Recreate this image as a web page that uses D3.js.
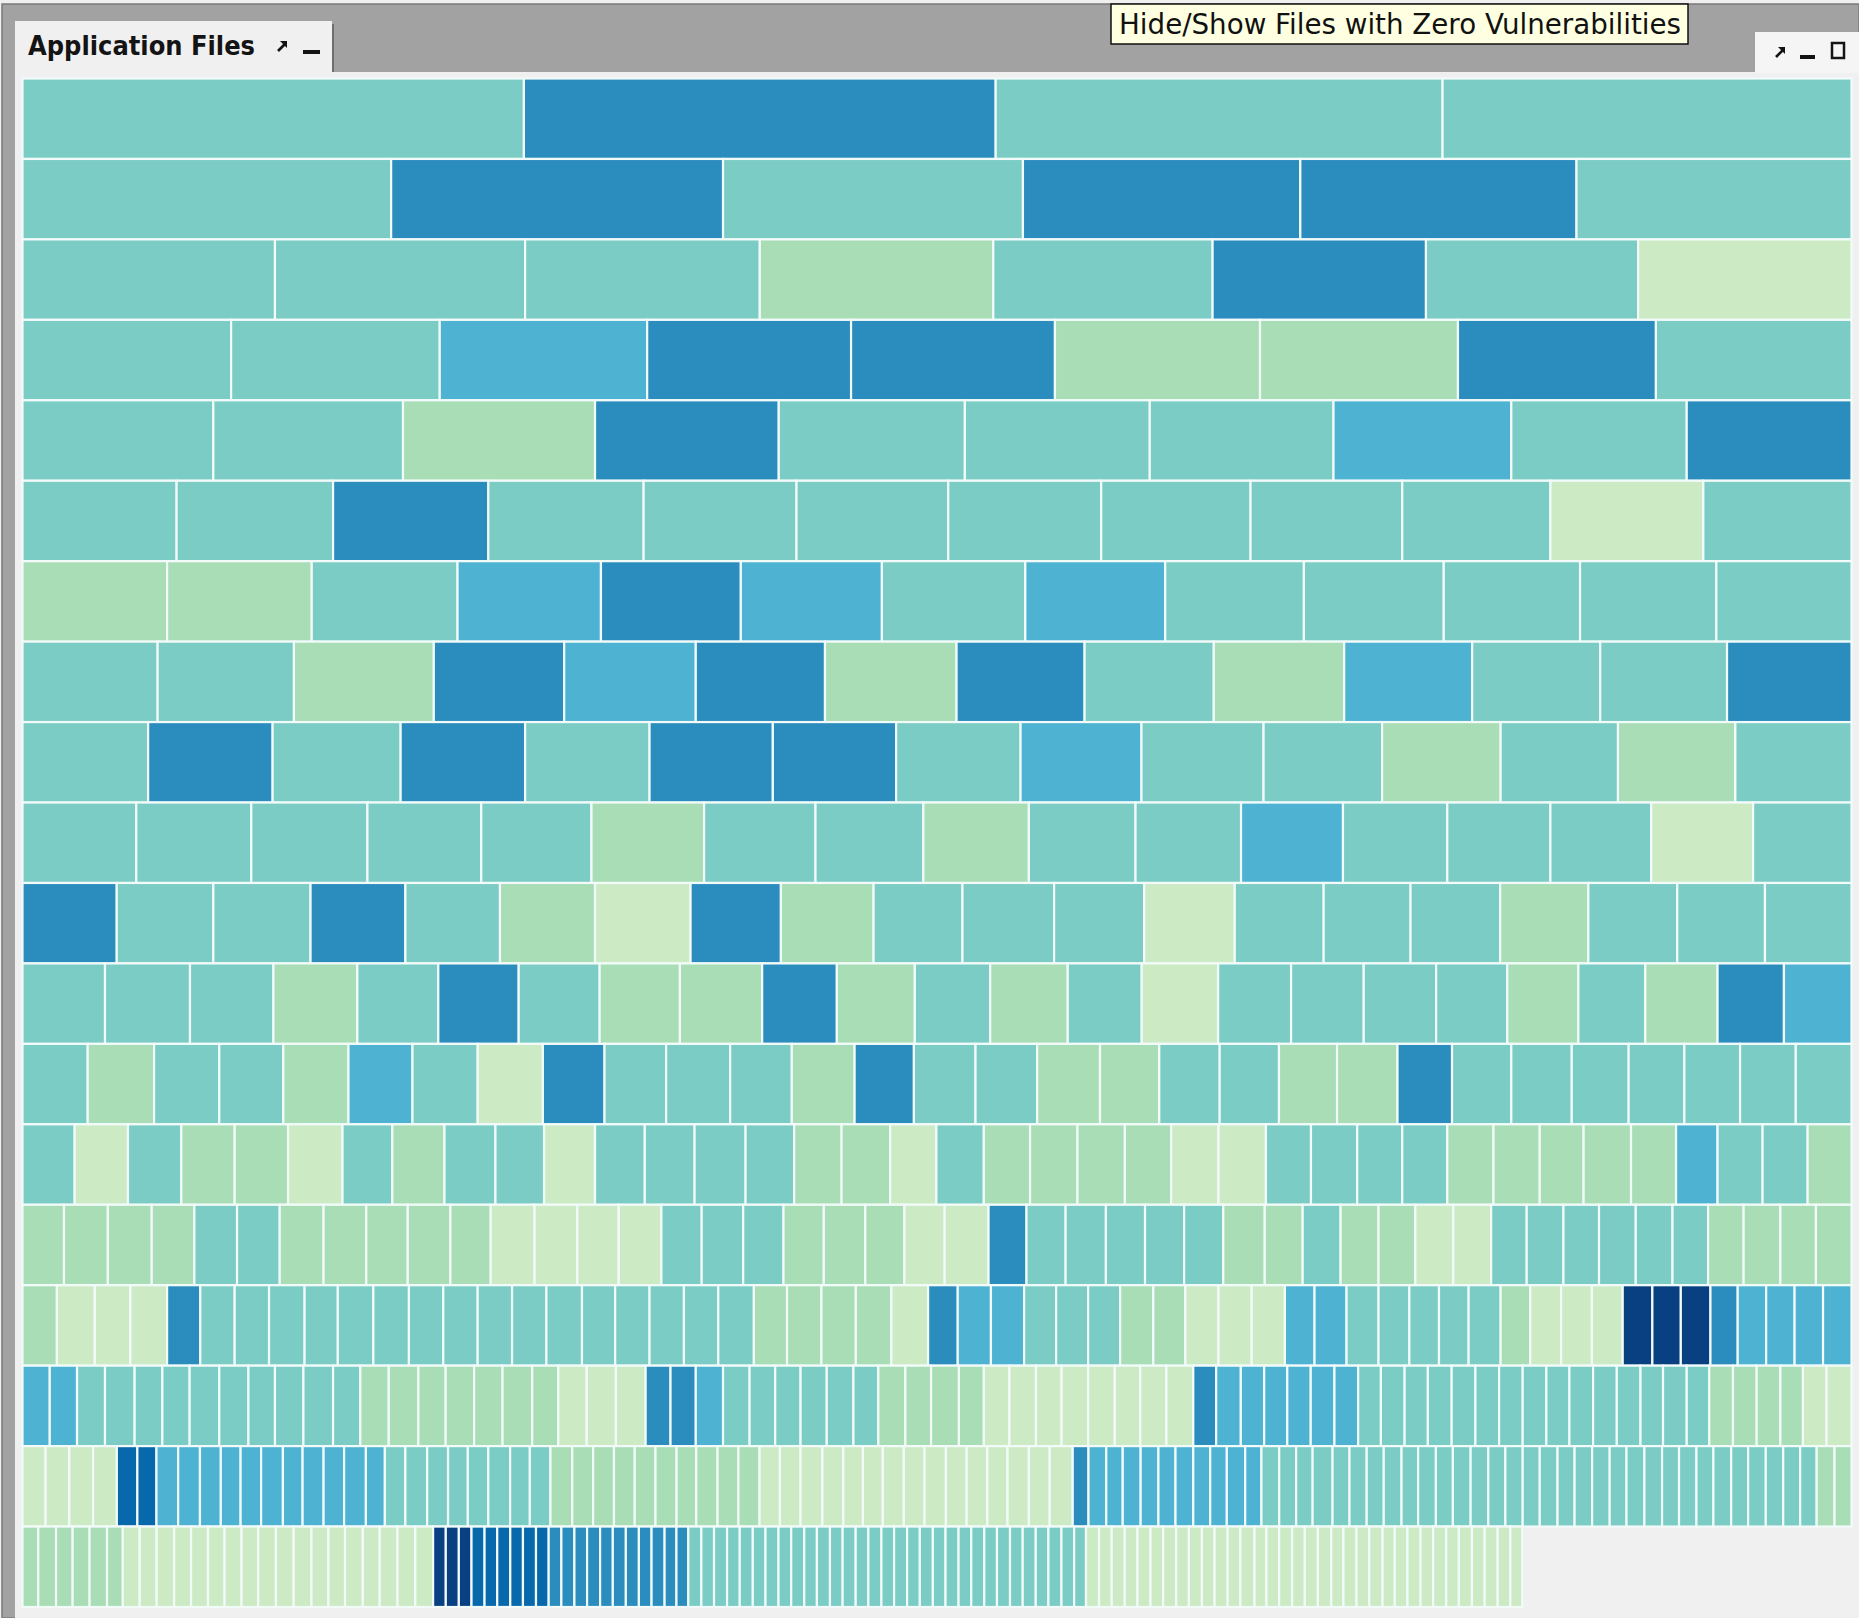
<!DOCTYPE html>
<html>
<head>
<meta charset="utf-8">
<script src="https://cdn.jsdelivr.net/npm/d3@7"></script>
<style>
  body { margin: 0; background: #f0f0f0; }
  svg { display: block; }
</style>
</head>
<body>
<svg id="chart"></svg>
<script>
const width = 1859
const height = 1618

const panelTitle = "Application Files"
const tooltipText = "Hide/Show Files with Zero Vulnerabilities"

// file sizes per treemap row (relative units)
const fileSizes = [
  [423, 398, 377, 345],
  [311, 280, 253, 234, 233, 232],
  [213, 211, 198, 197, 185, 180, 179, 180],
  [176, 176, 175, 172, 172, 173, 167, 167, 165],
  [161, 160, 162, 155, 157, 156, 155, 150, 148, 139],
  [130, 132, 131, 131, 129, 128, 129, 126, 128, 125, 129, 125],
  [122, 122, 123, 121, 118, 119, 121, 118, 117, 118, 115, 115, 114],
  [114, 115, 118, 110, 111, 109, 111, 108, 109, 110, 108, 108, 107, 105],
  [106, 105, 108, 105, 105, 104, 104, 105, 102, 103, 100, 100, 99, 99, 98],
  [96, 97, 98, 96, 93, 95, 94, 91, 89, 90, 89, 86, 88, 87, 85, 86, 83],
  [79.5, 81.5, 82, 80, 79.8, 80.2, 80.6, 76.2, 78.2, 75, 77.3, 76, 76.4, 75, 73.3, 75.6, 74.4, 75, 74, 73],
  [69.6, 71.7, 70.4, 70.8, 68.3, 67.8, 68.3, 67.7, 69.4, 63, 65.8, 63.6, 65.4, 62.4, 64.5, 61.5, 61.3, 61.1, 60, 60, 56.4, 61, 56, 57],
  [55, 56, 55, 54, 55, 54, 55, 55, 52, 52, 54, 52, 53, 50, 52, 52, 53, 50, 51, 50, 49, 51, 46, 50, 51, 48, 47, 47, 47, 47],
  [44, 45, 45, 45, 45, 46, 42, 44, 43, 41, 43, 42, 42, 43, 41, 40, 41, 39, 40, 39, 40, 40, 39, 40, 40, 38, 39, 38, 38, 39, 39, 37, 40, 38, 35, 38, 38, 37],
  [35, 37, 37, 36, 36, 36, 37, 36, 35, 36, 34, 37, 36, 35, 36, 34, 35, 34, 34, 35, 33, 34, 37, 32, 33, 34, 33, 33, 33, 35, 32, 32, 32, 31, 32, 32, 30, 31, 30, 31, 31, 30, 30, 31, 30, 30],
  [29, 32, 30, 31, 28, 29, 29, 30, 28, 30, 30, 29, 29, 29, 29, 30, 28, 29, 29, 29, 30, 28, 29, 29, 30, 31,
   25, 28, 28, 27, 27, 27, 28, 27, 28, 28, 28, 25, 27, 27, 26, 25, 25, 27, 25, 26, 26, 26, 25, 24, 25, 23, 24, 24, 24, 24],
  [23, 23, 23.6, 25, 23.4, 23, 25, 24.6, 22.4, 24, 25, 23, 24, 25, 23, 24, 24, 25, 22, 24, 24.6, 25.1,
   21, 21.3, 23, 22.4, 21.6, 21.4, 22.1, 22.5, 21, 22.8, 21.7, 23.5, 21, 21.6, 22.4, 21.6, 22.4, 22.5, 21.5, 22, 22.7, 19.3, 20.8,
   19.7, 19.5, 19.8, 20, 20, 19.2, 20, 19.6, 20.1, 20, 20, 19.9, 20, 19.4, 20, 20, 20, 19, 20, 19, 20, 20, 20, 19, 20, 21],
  [19.5, 20, 20.1, 20, 17.3, 16.1, 18.3, 18.4, 17.6, 16.7, 17.3, 18.4, 16.6, 17.7, 17.3, 18.4, 16, 17.3, 18.4, 17.6, 16.7, 17.3, 18.4, 16.6, 17.4, 18.4, 17.6, 17.6, 17.5,
   17.5, 17.8, 16.6, 18, 17.6, 17.8, 17.2, 17.4, 18.4, 17.7, 16.5, 16.8, 17.7, 17.5, 18, 17.5, 17.5, 17, 18, 17.6, 19.4, 13.3, 15, 13.9, 15.1, 15, 14.4, 15, 14.3, 14, 15.5,
   13.7, 15, 14.3, 13.9, 16.8, 14.3, 14.5, 14.4, 15, 14, 15, 14.3, 15, 14.9, 14.4, 14.6, 14.4, 15, 14.4, 14.8, 14.8, 14.2, 15.1, 14.9, 14.3, 14.7, 14.3, 15, 14.3, 14.9, 14.7, 14.3, 13.9, 15.1, 14.3],
  [13.3, 15, 14, 14.3, 14.7, 13.3,
   14.3, 14.3, 14.7, 14.3, 14.3, 14, 14.3, 14, 15, 15, 15, 14.3, 14, 15, 14.3, 15, 15, 15,
   10.7, 11, 10.7, 11, 10.7, 11, 10.7, 11, 10.7, 10.7, 11, 10.7, 11, 10.7, 11, 11, 10.7, 11, 10, 10,
   11, 10.7, 11, 10.7, 11, 10.7, 11, 10.7, 11, 10.7, 11, 10.7, 11, 10.7, 11, 10.7, 11, 10.7, 11, 10.7, 11, 10.7, 11, 10.7, 11, 10.7, 11, 10.7, 11, 10.7, 10,
   11, 10.7, 11, 10.7, 11, 10.7, 11, 10.7, 11, 10.7, 11, 10.7,
   12, 10, 10.7, 11, 10.7, 11, 11.3, 10.3, 11, 10.7, 11.3, 10.3, 10.7, 11, 10.7, 11, 10.7, 11, 10.7, 11, 10.7, 10]
]

// vulnerability level per file (index into the GnBu scheme)
const vulnLevels = [
  [4, 6, 4, 4],
  [4, 6, 4, 6, 6, 4],
  [4, 4, 4, 3, 4, 6, 4, 2],
  [4, 4, 5, 6, 6, 3, 3, 6, 4],
  [4, 4, 3, 6, 4, 4, 4, 5, 4, 6],
  [4, 4, 6, 4, 4, 4, 4, 4, 4, 4, 2, 4],
  [3, 3, 4, 5, 6, 5, 4, 5, 4, 4, 4, 4, 4],
  [4, 4, 3, 6, 5, 6, 3, 6, 4, 3, 5, 4, 4, 6],
  [4, 6, 4, 6, 4, 6, 6, 4, 5, 4, 4, 3, 4, 3, 4],
  [4, 4, 4, 4, 4, 3, 4, 4, 3, 4, 4, 5, 4, 4, 4, 2, 4],
  [6, 4, 4, 6, 4, 3, 2, 6, 3, 4, 4, 4, 2, 4, 4, 4, 3, 4, 4, 4],
  [4, 4, 4, 3, 4, 6, 4, 3, 3, 6, 3, 4, 3, 4, 2, 4, 4, 4, 4, 3, 4, 3, 6, 5],
  [4, 3, 4, 4, 3, 5, 4, 2, 6, 4, 4, 4, 3, 6, 4, 4, 3, 3, 4, 4, 3, 3, 6, 4, 4, 4, 4, 4, 4, 4],
  [4, 2, 4, 3, 3, 2, 4, 3, 4, 4, 2, 4, 4, 4, 4, 3, 3, 2, 4, 3, 3, 3, 3, 2, 2, 4, 4, 4, 4, 3, 3, 3, 3, 3, 5, 4, 4, 3],
  [3, 3, 3, 3, 4, 4, 3, 3, 3, 3, 3, 2, 2, 2, 2, 4, 4, 4, 3, 3, 3, 2,
   2, 6, 4, 4, 4, 4, 4, 3, 3, 4, 3, 3, 2, 2, 4, 4, 4, 4, 4, 4, 3, 3, 3, 3],
  [3, 2, 2, 2, 6, 4, 4, 4, 4, 4, 4, 4, 4, 4, 4, 4, 4, 4, 4, 4, 4, 3, 3, 3, 3, 2,
   6, 5, 5, 4, 4, 4, 3, 3, 2, 2, 2, 5, 5, 4, 4, 4, 4, 4, 3, 2, 2, 2, 8, 8, 8, 6, 5, 5, 5, 5],
  [5, 5, 4, 4, 4, 4, 4, 4, 4, 4, 4, 4, 3, 3, 3, 3, 3, 3, 3, 2, 2, 2,
   6, 6, 5, 4, 4, 4, 4, 4, 4, 3, 3, 3, 3, 2, 2, 2, 2, 2, 2, 2, 2, 6, 5,
   5, 5, 5, 5, 5, 4, 4, 4, 4, 4, 4, 4, 4, 4, 4, 4, 4, 4, 4, 4, 3, 3, 3, 3, 2, 2],
  [2, 2, 2, 2, 7, 7, 5, 5, 5, 5, 5, 5, 5, 5, 5, 5, 5, 4, 4, 4, 4, 4, 4, 4, 4, 3, 3, 3, 3,
   3, 3, 3, 3, 3, 3, 2, 2, 2, 2, 2, 2, 2, 2, 2, 2, 2, 2, 2, 2, 2, 6, 5, 5, 5, 5, 5, 5, 5, 5, 5,
   5, 4, 4, 4, 4, 4, 4, 4, 4, 4, 4, 4, 4, 4, 4, 4, 4, 4, 4, 4, 4, 4, 4, 4, 4, 4, 4, 4, 4, 4, 4, 4, 4, 3, 3],
  [3, 3, 3, 3, 3, 3,
   2, 2, 2, 2, 2, 2, 2, 2, 2, 2, 2, 2, 2, 2, 2, 2, 2, 2,
   8, 8, 8, 7, 7, 7, 7, 7, 7, 6, 6, 6, 6, 6, 6, 6, 6, 6, 6, 6,
   4, 4, 4, 4, 4, 4, 4, 4, 4, 4, 4, 4, 4, 4, 4, 4, 4, 4, 4, 4, 4, 4, 4, 4, 4, 4, 4, 4, 4, 4, 4,
   2, 2, 2, 2, 2, 2, 2, 2, 2, 2, 2, 2,
   2, 2, 2, 2, 2, 2, 2, 2, 2, 2, 2, 2, 2, 2, 2, 2, 2, 2, 2, 2, 2, 2]
]

const palette = d3.schemeGnBu[9]

const svg = d3.select('#chart')
  .attr('width', width)
  .attr('height', height)
  .style('font-family', '"DejaVu Sans", sans-serif')

// window frame
svg.append('rect')
  .attr('x', 0).attr('y', 0)
  .attr('width', width).attr('height', height)
  .attr('fill', '#f0f0f0')

svg.append('rect')
  .attr('x', 2).attr('y', 4)
  .attr('width', width - 2).attr('height', height - 4)
  .attr('fill', '#a2a2a2')
  .attr('stroke', '#7a7a7a')
  .attr('stroke-width', 1.5)

// panel body
svg.append('rect')
  .attr('x', 15).attr('y', 72)
  .attr('width', width - 15).attr('height', height - 72)
  .attr('fill', '#f0f0f0')

// small "pop out" arrow icon
function popIcon(g, cx, cy) {
  g.append('path')
    .attr('d', `M${cx - 4},${cy + 5} L${cx + 3},${cy - 2}`)
    .attr('stroke', '#141414')
    .attr('stroke-width', 2.6)
  g.append('path')
    .attr('d', `M${cx - 2},${cy - 5} L${cx + 5},${cy - 5} L${cx + 5},${cy + 2} Z`)
    .attr('fill', '#141414')
}

// tab
const tab = svg.append('g')
tab.append('rect')
  .attr('x', 331).attr('y', 24)
  .attr('width', 3).attr('height', 48)
  .attr('fill', '#6e6e6e')
tab.append('rect')
  .attr('x', 15).attr('y', 21)
  .attr('width', 317).attr('height', 52)
  .attr('fill', '#f0f0f0')
tab.append('text')
  .attr('x', 28).attr('y', 55)
  .attr('font-size', 26)
  .attr('font-weight', 'bold')
  .attr('fill', '#141414')
  .attr('textLength', 227)
  .attr('lengthAdjust', 'spacingAndGlyphs')
  .text(panelTitle)
popIcon(tab, 282, 46)
tab.append('rect')
  .attr('x', 303).attr('y', 50)
  .attr('width', 17).attr('height', 4)
  .attr('fill', '#141414')

// right-hand window controls
const ctrl = svg.append('g')
ctrl.append('rect')
  .attr('x', 1755).attr('y', 32)
  .attr('width', width - 1755).attr('height', 41)
  .attr('fill', '#f5f5f5')
popIcon(ctrl, 1780, 52)
ctrl.append('rect')
  .attr('x', 1800).attr('y', 55)
  .attr('width', 15).attr('height', 4)
  .attr('fill', '#141414')
ctrl.append('rect')
  .attr('x', 1832).attr('y', 43)
  .attr('width', 12).attr('height', 15)
  .attr('fill', 'none')
  .attr('stroke', '#141414')
  .attr('stroke-width', 2.5)

// tooltip
const tip = svg.append('g')
tip.append('rect')
  .attr('x', 1111).attr('y', 4)
  .attr('width', 577).attr('height', 40)
  .attr('fill', '#ffffe1')
  .attr('stroke', '#111')
  .attr('stroke-width', 1.5)
tip.append('text')
  .attr('x', 1119).attr('y', 34)
  .attr('font-size', 28)
  .attr('fill', '#111')
  .attr('textLength', 562)
  .attr('lengthAdjust', 'spacingAndGlyphs')
  .text(tooltipText)

// treemap rows
const y = d3.scaleBand()
  .domain(d3.range(fileSizes.length))
  .range([78.5, 1607])

const rowSums = fileSizes.map(r => d3.sum(r))
const capacity = d3.median(rowSums)

const cellsG = svg.append('g')

fileSizes.forEach((sizes, i) => {
  const total = rowSums[i] < capacity * 0.95 ? capacity : rowSums[i]
  const x = d3.scaleLinear().domain([0, total]).range([22.5, 1851.5])
  const cum = d3.cumsum(sizes)
  const cells = sizes.map((s, j) => ({
    x0: cum[j] - s,
    x1: cum[j],
    level: vulnLevels[i][j]
  }))

  cellsG.append('g')
    .selectAll('rect')
    .data(cells)
    .join('rect')
    .attr('x', d => x(d.x0))
    .attr('y', y(i))
    .attr('width', d => x(d.x1) - x(d.x0))
    .attr('height', y.bandwidth())
    .attr('fill', d => palette[d.level] || '#ccc')
    .attr('stroke', '#f2fbfa')
    .attr('stroke-width', 2.2)
})
</script>
</body>
</html>
